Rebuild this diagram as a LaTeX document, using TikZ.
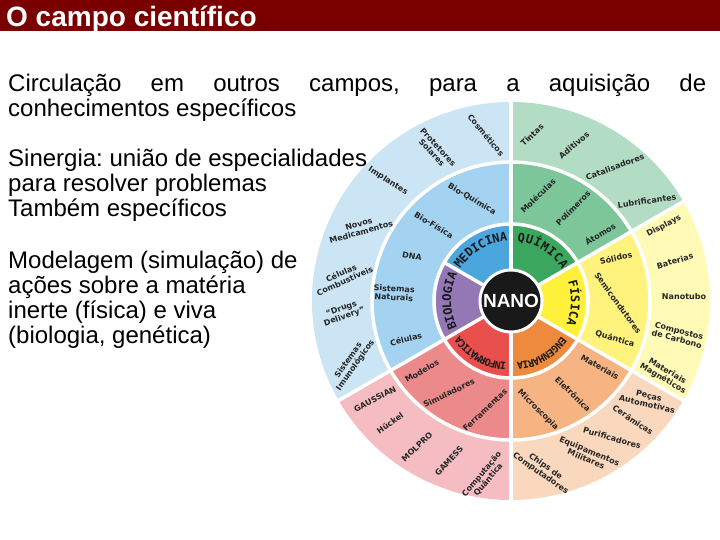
\documentclass[tikz,border=0pt]{standalone}
\usepackage{fontspec}
\setmainfont{Liberation Sans}
\newfontfamily\lblfont{DejaVu Sans}
\newfontfamily\discfont{DejaVu Sans Mono}
\definecolor{titlered}{HTML}{7A0000}
\definecolor{cMed}{HTML}{4BA6DD}
\definecolor{cBio}{HTML}{9478B5}
\definecolor{cInf}{HTML}{E84F4D}
\definecolor{cEng}{HTML}{EE8A3D}
\definecolor{cFis}{HTML}{FFF03C}
\definecolor{cQui}{HTML}{3AA65E}
\definecolor{mBlue}{HTML}{A4D3F1}
\definecolor{mPink}{HTML}{EC8A8B}
\definecolor{mOrange}{HTML}{F5B482}
\definecolor{mYellow}{HTML}{FFF27D}
\definecolor{mGreen}{HTML}{7DC69A}
\definecolor{oBlue}{HTML}{CCE5F4}
\definecolor{oPink}{HTML}{F5BDC2}
\definecolor{oOrange}{HTML}{F9D8BD}
\definecolor{oYellow}{HTML}{FFFAB5}
\definecolor{oGreen}{HTML}{B3DCC4}
\newcommand\wsector[5]{%
  \fill[#5] (#3:#1) arc[start angle=#3,end angle=#4,radius=#1] -- (#4:#2) arc[start angle=#4,end angle=#3,radius=#2] -- cycle;}
% center angle, step, baseline radius, count, font size, letters
\newcommand\arcword[6]{%
  \foreach \ch [count=\i] in {#6} {
    \pgfmathsetmacro\ang{#1+((#4+1)/2-\i)*#2}
    \pgfmathsetmacro\rot{\ang-90}
    \node[anchor=base, inner sep=0pt, rotate=\rot, text=black!90,
      font=\discfont\bfseries\fontsize{#5}{#5}\selectfont] at (\ang:#3) {\ch};
  }}
\tikzset{
  lbl/.style={font=\lblfont\bfseries\fontsize{8}{8.6}\selectfont, text=black!85, align=center, inner sep=0pt},
  bodytext/.style={anchor=base west, inner sep=0pt, font=\frenchspacing\fontsize{24}{25}\selectfont, align=left}
}
\begin{document}
\begin{tikzpicture}[x=1pt,y=1pt]
\useasboundingbox (0,0) rectangle (720,-540);
\fill[titlered] (0,0) rectangle (720,-31);
\node[anchor=base west, inner sep=0pt, text=white, font=\bfseries\fontsize{28}{30}\selectfont] (title) at (6,-27) {O campo científico};

\begin{scope}[shift={(511,-301)}]
  % inner ring
  \wsector{0}{77}{90}{150}{cMed}
  \wsector{0}{77}{150}{210}{cBio}
  \wsector{0}{77}{210}{270}{cInf}
  \wsector{0}{77}{270}{330}{cEng}
  \wsector{0}{77}{-30}{30}{cFis}
  \wsector{0}{77}{30}{90}{cQui}
  % middle ring
  \wsector{77}{139}{90}{210}{mBlue}
  \wsector{77}{139}{210}{270}{mPink}
  \wsector{77}{139}{270}{330}{mOrange}
  \wsector{77}{139}{-30}{30}{mYellow}
  \wsector{77}{139}{30}{90}{mGreen}
  % outer ring
  \wsector{139}{199}{90}{210}{oBlue}
  \wsector{139}{199}{210}{270}{oPink}
  \wsector{139}{199}{270}{330}{oOrange}
  \wsector{139}{199}{-30}{30}{oYellow}
  \wsector{139}{199}{30}{90}{oGreen}
  % white separators
  \draw[white, line width=3.5pt] (0,0) circle[radius=77];
  \draw[white, line width=3.5pt] (0,0) circle[radius=139];
  \foreach \a in {30,90,210,270,330} \draw[white, line width=3.5pt] (0,0) -- (\a:200);
  \draw[white, line width=3.5pt] (0,0) -- (150:77);
  % center
  \node[circle, fill=black!90, draw=white, line width=3pt, minimum size=62pt, inner sep=0pt,
        text=white, font=\bfseries\fontsize{19}{19}\selectfont] (nano) at (0,0) {NANO};
  % discipline words
  \arcword{120.5}{6.8}{60}{8}{12}{M,E,D,I,C,I,N,A}
  \arcword{58}{7.6}{60}{7}{12}{Q,U,Í,M,I,C,A}
  \arcword{-2}{6.8}{60}{6}{12}{F,Í,S,I,C,A}
  \arcword{-60}{4.9}{62}{10}{10}{E,N,G,E,N,H,A,R,I,A}
  \arcword{-120}{4.6}{62}{11}{10}{I,N,F,O,R,M,Á,T,I,C,A}
  \arcword{180}{6.6}{60}{8}{12}{B,I,O,L,O,G,I,A}
\end{scope}

% outer blue
\node[lbl, rotate=-50] (cosm) at (486,-135) {Cosméticos};
\node[lbl, rotate=-47] (prot) at (435,-150) {Protetores\\Solares};
\node[lbl, rotate=-32] (impl) at (388,-181) {Implantes};
\node[lbl, rotate=16] (novo) at (360,-228) {Novos\\Medicamentos};
\node[lbl, rotate=24] (celc) at (343,-277) {Células\\Combustíveis};
\node[lbl, rotate=20] (drug) at (343,-313) {“Drugs\\Delivery”};
\node[lbl, rotate=55] (sist) at (352,-363) {Sistemas\\Imunológicos};
% middle blue
\node[lbl, rotate=-30] (bioq) at (472,-199) {Bio-Química};
\node[lbl, rotate=-31] (biof) at (434,-225) {Bio-Física};
\node[lbl, rotate=-10] (dna) at (412,-256) {DNA};
\node[lbl, rotate=-3] (snat) at (394,-293) {Sistemas\\Naturais};
\node[lbl, rotate=15] (celu) at (406,-339) {Células};
% outer pink
\node[lbl, rotate=27] (gaus) at (375,-399) {GAUSSIAN};
\node[lbl, rotate=35] (huck) at (390,-423) {Hückel};
\node[lbl, rotate=43] (molp) at (417,-447) {MOLPRO};
\node[lbl, rotate=48] (game) at (449,-461) {GAMESS};
\node[lbl, rotate=50] (comq) at (485,-477) {Computação\\Quântica};
% middle pink
\node[lbl, rotate=30] (mode) at (422,-371) {Modelos};
\node[lbl, rotate=26] (simu) at (449,-393) {Simuladores};
\node[lbl, rotate=43] (ferr) at (485,-410) {Ferramentas};
% middle orange
\node[lbl, rotate=-30] (mate) at (600,-367) {Materiais};
\node[lbl, rotate=-44] (elet) at (573,-394) {Eletrônica};
\node[lbl, rotate=-45] (micr) at (538,-410) {Microscopia};
% outer orange
\node[lbl, rotate=-13] (peca) at (648,-400) {Peças\\Automotivas};
\node[lbl, rotate=-34] (cera) at (633,-420) {Cerâmicas};
\node[lbl, rotate=-16] (puri) at (612,-438) {Purificadores};
\node[lbl, rotate=-23] (equi) at (588,-455) {Equipamentos\\Militares};
\node[lbl, rotate=-35] (chip) at (543,-470) {Chips de\\Computadores};
% middle yellow
\node[lbl, rotate=12] (soli) at (616,-258) {Sólidos};
\node[lbl, rotate=-54] (semi) at (618,-303) {Semicondutores};
\node[lbl, rotate=-16] (quan) at (615,-339) {Quântica};
% outer yellow
\node[lbl, rotate=28] (disp) at (664,-226) {Displays};
\node[lbl, rotate=17] (bate) at (675,-261) {Baterias};
\node[lbl] (nant) at (684,-297) {Nanotubo};
\node[lbl, rotate=-15] (comp) at (678,-335) {Compostos\\de Carbono};
\node[lbl, rotate=-31] (magn) at (665,-375) {Materiais\\Magnéticos};
% outer green
\node[lbl, rotate=43] (tint) at (532,-135) {Tintas};
\node[lbl, rotate=40] (adit) at (574,-145) {Aditivos};
\node[lbl, rotate=20] (cata) at (615,-167) {Catalisadores};
\node[lbl, rotate=8] (lubr) at (647,-201) {Lubrificantes};
% middle green
\node[lbl, rotate=44] (mole) at (538,-196) {Moléculas};
\node[lbl, rotate=45] (poli) at (573,-208) {Polímeros};
\node[lbl, rotate=31] (atom) at (600,-234) {Átomos};

% body text (anchor = baseline of last line)
\node[bodytext] (t1) at (8,-92) {\makebox[698pt][s]{Circulação em outros campos, para a aquisição de}};
\node[bodytext] (t2) at (8,-117) {conhecimentos específicos};
\node[bodytext] (t3) at (8,-217) {Sinergia: união de especialidades\\para resolver problemas\\Também específicos};
\node[bodytext] (t4) at (8,-343) {Modelagem (simulação) de\\ações sobre a matéria\\inerte (física) e viva\\(biologia, genética)};
\end{tikzpicture}
\end{document}
